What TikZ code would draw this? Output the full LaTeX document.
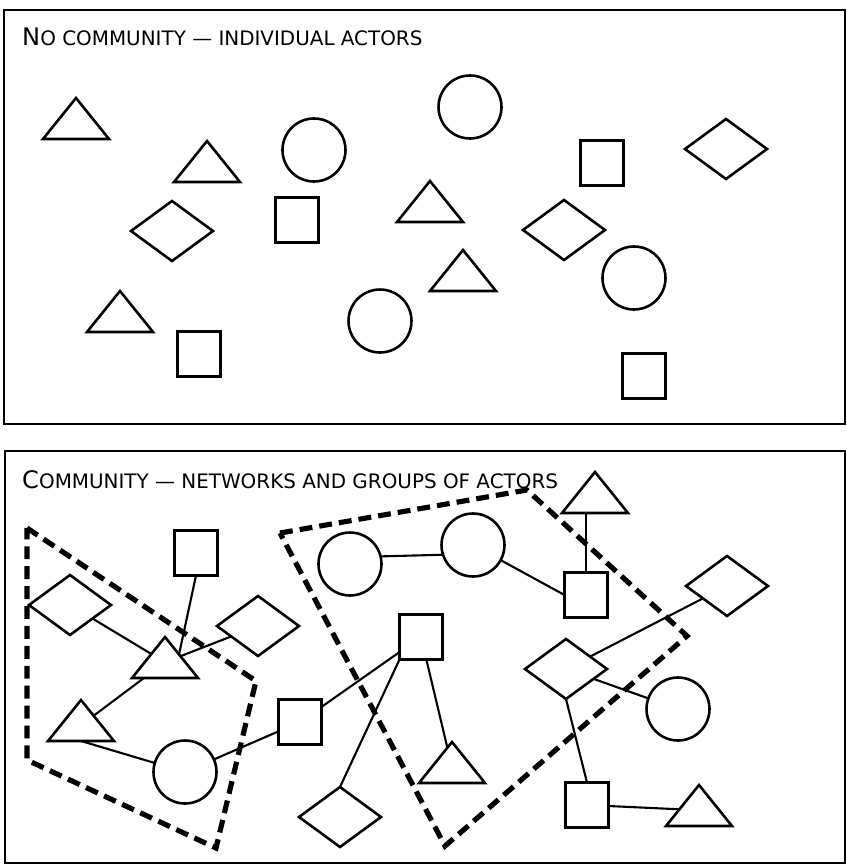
\documentclass[tikz,border=0pt]{standalone}
\usepackage{fontspec}
\setmainfont{DejaVu Sans}
\usetikzlibrary{shapes.geometric}
\newcommand{\scttl}[2]{{\fontsize{20.6}{22}\selectfont #1}{\fontsize{17}{20}\selectfont #2}}
\tikzset{
  actor/.style={draw,line width=2.2pt,inner sep=0pt,outer sep=0pt},
  sq/.style={actor,rectangle,minimum width=1.29cm,minimum height=1.35cm},
  ci/.style={actor,circle,minimum size=1.89cm},
  di/.style={actor,diamond,minimum width=2.46cm,minimum height=1.8cm},
  tri/.style={actor,isosceles triangle,isosceles triangle stretches,shape border rotate=90,minimum width=1.98cm,minimum height=1.23cm,anchor=apex},
  tie/.style={line width=1.8pt},
  grp/.style={line width=4.4pt,dash pattern=on 11pt off 6pt},
  panel/.style={line width=2.2pt},
  ttl/.style={anchor=base west,inner sep=0pt},
}

\begin{document}
\begin{tikzpicture}[x=0.03cm,y=-0.03cm]
\useasboundingbox (0,0) rectangle (847,866);
\draw[panel] (4,10) rectangle (845,424);
\draw[panel] (5,451) rectangle (845,863);
\node[ttl] (t1) at (22,45) {\scttl{N}{O COMMUNITY --- INDIVIDUAL ACTORS}};
\node[ttl] (t2) at (22,488) {\scttl{C}{OMMUNITY --- NETWORKS AND GROUPS OF ACTORS}};
% individual actors
\node[tri] (a1) at (76,98) {};   \node[tri] (a2) at (207,141) {};
\node[ci] (a3) at (314,150) {};  \node[ci] (a4) at (470,107) {};
\node[sq] (a5) at (602,163) {};  \node[di] (a6) at (726,149) {};
\node[di] (a7) at (172,231) {};  \node[sq] (a8) at (297,220) {};
\node[tri] (a9) at (430,181) {}; \node[di] (a10) at (564,230) {};
\node[tri] (a11) at (463,250) {};\node[ci] (a12) at (634,278) {};
\node[tri] (a13) at (120,291) {};\node[ci] (a14) at (380,321) {};
\node[sq] (a15) at (199,354) {}; \node[sq] (a16) at (644,376) {};
% groups
\draw[grp] (27,528) -- (256,681) -- (216,848) -- (27,760) -- cycle;
\draw[grp] (280,533) -- (527,490) -- (687,636) -- (445,846) -- cycle;
% networked actors
\node[sq] (b1) at (196,553) {};  \node[di] (b2) at (70,605) {};
\node[tri] (b3) at (165,637) {}; \node[di] (b4) at (258,626) {};
\node[tri] (b5) at (81,700) {};  \node[ci] (b6) at (185,772) {};
\node[sq] (b7) at (300,722) {};  \node[ci] (b8) at (350,564) {};
\node[sq] (b9) at (421,637) {};  \node[di] (b10) at (340,817) {};
\node[ci] (b11) at (473,545) {}; \node[sq] (b12) at (586,595) {};
\node[tri] (b13) at (595,472) {};\node[di] (b14) at (727,586) {};
\node[di] (b15) at (566,669) {}; \node[ci] (b16) at (678,709) {};
\node[tri] (b17) at (452,742) {};\node[sq] (b18) at (587,805) {};
\node[tri] (b19) at (699,785) {};
\draw[tie] (b1.south) -- (b3.29); \draw[tie] (b2) -- (b3); \draw[tie] (b4) -- (b3);
\draw[tie] (b3) -- (b5); \draw[tie] (b5.lower side) -- (b6); \draw[tie] (b6) -- (b7);
\draw[tie] (b7) -- (b9); \draw[tie] (b9.south west) -- (b10.north); \draw[tie] (b9) -- (b17);
\draw[tie] (b8.14) -- (b11.198); \draw[tie] (b11) -- (b12.west);
\draw[tie] (b12.north) -- (b12.north |- b13.lower side);
\draw[tie] (b15) -- (b14); \draw[tie] (b15) -- (b16); \draw[tie] (b15.south) -- (b18.north);
\draw[tie] (b18) -- (b19);
\end{tikzpicture}
\end{document}
